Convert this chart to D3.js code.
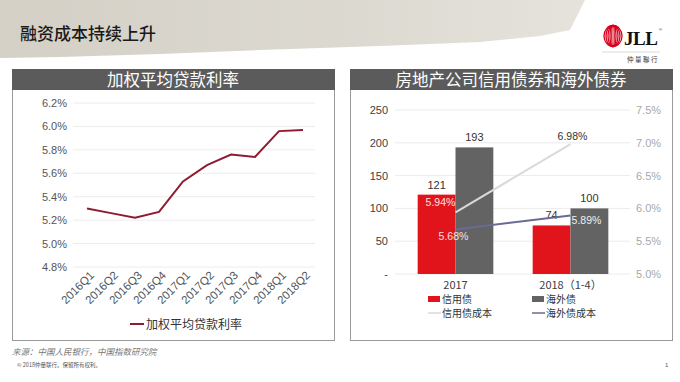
<!DOCTYPE html>
<html><head><meta charset="utf-8">
<script src="https://cdn.jsdelivr.net/npm/d3@7"></script>
<style>
html,body{margin:0;padding:0;background:#fff;}
svg{display:block;font-family:"Liberation Sans","Noto Sans CJK SC",sans-serif;}
</style></head>
<body><svg id="c" width="680" height="382"></svg>
<script>
// ---------- data ----------
const quarters = ["2016Q1","2016Q2","2016Q3","2016Q4","2017Q1","2017Q2","2017Q3","2017Q4","2018Q1","2018Q2"];
const loanRate = [5.30,5.26,5.22,5.27,5.53,5.67,5.76,5.74,5.96,5.97];
const leftTicks = [4.8,5.0,5.2,5.4,5.6,5.8,6.0,6.2];
const bondCats = ["2017","2018（1-4）"];
const creditBond = [121,74];
const overseasBond = [193,100];
const creditCost = [5.94,6.98];
const overseasCost = [5.68,5.89];
const amountTicks = [0,50,100,150,200,250];
const costTicks = [5.0,5.5,6.0,6.5,7.0,7.5];

const svg = d3.select("#c");
const CJK = "'Noto Sans CJK SC','Liberation Sans',sans-serif";

// ---------- header ----------
const defs = svg.append("defs");
const g1 = defs.append("linearGradient").attr("id","brush").attr("x1","0").attr("x2","1");
g1.append("stop").attr("offset","0").attr("stop-color","#d4d0c6");
g1.append("stop").attr("offset","0.6").attr("stop-color","#dcd9d1");
g1.append("stop").attr("offset","1").attr("stop-color","#e6e3dc");
svg.append("path")
  .attr("d","M0,0 L585,0 L578,14 L570,30 L540,36 L480,42 L380,46 L260,50 L160,54 L60,57 L0,58 Z")
  .attr("fill","url(#brush)");
svg.append("text").attr("x",20).attr("y",40).text("融资成本持续上升")
  .attr("font-family",CJK).attr("font-size",17).attr("font-weight",500).attr("fill","#1a1a1a");

// JLL logo
const logo = svg.append("g");
[9,7,5,3,1.2].forEach((rx,i)=>{
  logo.append("ellipse").attr("cx",613).attr("cy",36).attr("rx",rx).attr("ry",10.5)
    .attr("fill","none").attr("stroke","#d6001c").attr("stroke-width",1.3);
});
logo.append("text").attr("x",624).attr("y",45).text("JLL")
  .attr("font-family","'Liberation Serif',serif").attr("font-weight","bold").attr("font-size",19).attr("letter-spacing",-0.5).attr("fill","#111");
logo.append("text").attr("x",659).attr("y",31).text("®").attr("font-size",4).attr("fill","#111");
logo.append("line").attr("x1",602).attr("x2",660).attr("y1",52).attr("y2",52).attr("stroke","#ccc").attr("stroke-width",0.7);
logo.append("text").attr("x",659).attr("y",62).attr("text-anchor","end").text("仲量聯行")
  .attr("font-family",CJK).attr("font-size",6.5).attr("fill","#333").attr("letter-spacing",1.5);

// ---------- panels ----------
function panel(x,w,title){
  svg.append("rect").attr("x",x+0.5).attr("y",69.5).attr("width",w).attr("height",271)
    .attr("fill","#fff").attr("stroke","#9a9a9a").attr("stroke-width",1);
  svg.append("rect").attr("x",x).attr("y",69).attr("width",w+1).attr("height",21).attr("fill","#5b5b5b");
  svg.append("text").attr("x",x+w/2).attr("y",86).attr("text-anchor","middle").text(title)
    .attr("font-family",CJK).attr("font-size",16.5).attr("fill","#fff");
}
panel(12,322,"加权平均贷款利率");
panel(350,322,"房地产公司信用债券和海外债券");

// ---------- left chart ----------
const xL = d3.scaleBand().domain(quarters).range([75,315]);
const yL = d3.scaleLinear().domain([4.8,6.2]).range([267,103]);
const gl = svg.append("g");
gl.append("g").selectAll("line").data(leftTicks).join("line")
  .attr("x1",73).attr("x2",315).attr("y1",d=>yL(d)).attr("y2",d=>yL(d))
  .attr("stroke","#ececec").attr("stroke-width",1);
const yAxL = gl.append("g").attr("transform","translate(70,0)")
  .call(d3.axisLeft(yL).tickValues(leftTicks).tickFormat(d=>d3.format(".1f")(d)+"%").tickSize(0).tickPadding(3));
yAxL.select(".domain").remove();
yAxL.selectAll("text").attr("font-size",11).attr("fill","#555").attr("font-family","'Liberation Sans',sans-serif");
const xAxL = gl.append("g").attr("transform","translate(0,270)")
  .call(d3.axisBottom(xL).tickSize(0).tickPadding(0));
xAxL.select(".domain").remove();
xAxL.selectAll("text").attr("font-size",11.5).attr("fill","#555")
  .attr("text-anchor","end").attr("dy","0.35em").attr("dx","0")
  .attr("transform","translate(5,3) rotate(-45)");
gl.append("path").datum(loanRate)
  .attr("d",d3.line().x((d,i)=>xL(quarters[i])+xL.bandwidth()/2).y(d=>yL(d)))
  .attr("fill","none").attr("stroke","#8e1b2e").attr("stroke-width",2);
gl.append("line").attr("x1",130).attr("x2",144).attr("y1",324).attr("y2",324).attr("stroke","#8e1b2e").attr("stroke-width",2);
gl.append("text").attr("x",146).attr("y",328.5).text("加权平均贷款利率")
  .attr("font-family",CJK).attr("font-size",12).attr("fill","#333");

// ---------- right chart ----------
const xR = d3.scaleBand().domain(bondCats).range([398,628]);
const xSub = d3.scaleBand().domain(["credit","overseas"]).range([0,xR.bandwidth()]).paddingOuter(0.52).paddingInner(0);
const yA = d3.scaleLinear().domain([0,250]).range([274,110]);
const yC = d3.scaleLinear().domain([5.0,7.5]).range([274,110]);
const gr = svg.append("g");
gr.append("g").selectAll("line").data(amountTicks).join("line")
  .attr("x1",395).attr("x2",630).attr("y1",d=>yA(d)).attr("y2",d=>yA(d))
  .attr("stroke","#ececec").attr("stroke-width",1);
const yAxA = gr.append("g").attr("transform","translate(390,0)")
  .call(d3.axisLeft(yA).tickValues(amountTicks).tickFormat(d=>d===0?"-":d).tickSize(0).tickPadding(2));
yAxA.select(".domain").remove();
yAxA.selectAll("text").attr("font-size",11).attr("fill","#404040").attr("font-family","'Liberation Sans',sans-serif");
const yAxC = gr.append("g").attr("transform","translate(634,0)")
  .call(d3.axisRight(yC).tickValues(costTicks).tickFormat(d=>d3.format(".1f")(d)+"%").tickSize(0).tickPadding(2));
yAxC.select(".domain").remove();
yAxC.selectAll("text").attr("font-size",11).attr("fill","#a8a8a8").attr("font-family","'Liberation Sans',sans-serif");
const xAxR = gr.append("g").attr("transform","translate(0,279)")
  .call(d3.axisBottom(xR).tickSize(0).tickPadding(2));
xAxR.select(".domain").remove();
xAxR.selectAll("text").attr("font-size",11).attr("fill","#404040").attr("font-family",CJK);

const bars = [
  {key:"credit",vals:creditBond,color:"#e1141c"},
  {key:"overseas",vals:overseasBond,color:"#636363"}
];
bars.forEach(s=>{
  s.vals.forEach((v,i)=>{
    const bx = xR(bondCats[i])+xSub(s.key);
    gr.append("rect").attr("x",bx).attr("y",yA(v)).attr("width",xSub.bandwidth()).attr("height",yA(0)-yA(v)).attr("fill",s.color);
    gr.append("text").attr("x",bx+xSub.bandwidth()/2).attr("y",yA(v)-6).attr("text-anchor","middle")
      .text(v).attr("font-size",11).attr("fill","#333");
  });
});
const cx = i=>xR(bondCats[i])+xR.bandwidth()/2;
gr.append("path").datum(creditCost).attr("d",d3.line().x((d,i)=>cx(i)).y(d=>yC(d)))
  .attr("fill","none").attr("stroke","#d9d9d9").attr("stroke-width",2);
gr.append("path").datum(overseasCost).attr("d",d3.line().x((d,i)=>cx(i)).y(d=>yC(d)))
  .attr("fill","none").attr("stroke","#6a6a96").attr("stroke-width",2);
// cost labels
const lbl = (x,y,t,c,anchor)=>gr.append("text").attr("x",x).attr("y",y).text(t)
  .attr("font-size",10.5).attr("fill",c).attr("text-anchor",anchor||"middle");
lbl(cx(0)-15,yC(creditCost[0])-6,d3.format(".2f")(creditCost[0])+"%","#fde0e0");
lbl(cx(0)-2,yC(overseasCost[0])+11,d3.format(".2f")(overseasCost[0])+"%","#f6e0e0");
lbl(cx(1)+2,yC(creditCost[1])-4,d3.format(".2f")(creditCost[1])+"%","#333");
lbl(cx(1)+16,yC(overseasCost[1])+8,d3.format(".2f")(overseasCost[1])+"%","#f0f0f0");

// legend
const lg = gr.append("g").attr("font-family",CJK).attr("font-size",10).attr("fill","#333");
lg.append("rect").attr("x",428).attr("y",296).attr("width",12).attr("height",6).attr("fill","#e1141c");
lg.append("text").attr("x",442).attr("y",302.5).text("信用债");
lg.append("rect").attr("x",532).attr("y",296).attr("width",12).attr("height",6).attr("fill","#636363");
lg.append("text").attr("x",546).attr("y",302.5).text("海外债");
lg.append("line").attr("x1",428).attr("x2",441).attr("y1",313).attr("y2",313).attr("stroke","#d9d9d9").attr("stroke-width",1.5);
lg.append("text").attr("x",442).attr("y",317.2).text("信用债成本");
lg.append("line").attr("x1",532).attr("x2",545).attr("y1",313).attr("y2",313).attr("stroke","#6a6a96").attr("stroke-width",1.5);
lg.append("text").attr("x",546).attr("y",317.2).text("海外债成本");

// ---------- footer ----------
svg.append("text").attr("x",12).attr("y",355).text("来源：中国人民银行，中国指数研究院")
  .attr("font-family",CJK).attr("font-size",8.5).attr("font-style","italic").attr("fill","#777");
svg.append("text").attr("x",17).attr("y",367).text("© 2018仲量联行。保留所有权利。")
  .attr("font-family",CJK).attr("font-size",5.5).attr("fill","#555");
svg.append("text").attr("x",665).attr("y",367).text("1")
  .attr("font-size",6).attr("fill","#555");
</script></body></html>
